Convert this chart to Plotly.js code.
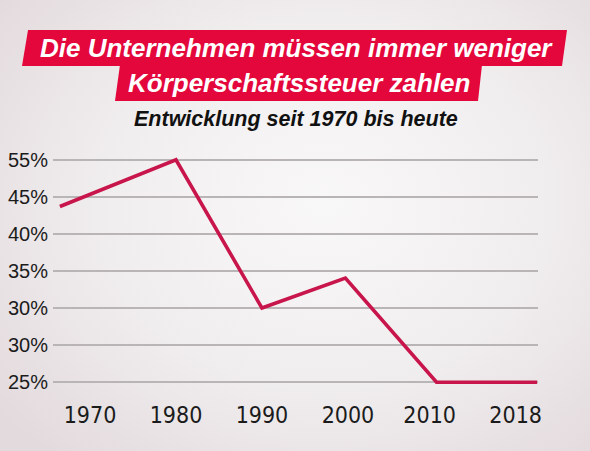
<!DOCTYPE html>
<html>
<head>
<meta charset="utf-8">
<script src="https://cdn.plot.ly/plotly-3.0.1.min.js"></script>
<style>
  html, body { margin: 0; padding: 0; }
  body {
    width: 590px; height: 451px; overflow: hidden;
    background: radial-gradient(ellipse 70% 75% at 55% 45%, #f9f8f8 0%, #f0edee 55%, #e3dadd 100%);
  }
  #chart { width: 590px; height: 451px; }
</style>
</head>
<body>
<div id="chart"></div>
<script>
// data
const years = [1966.5, 1980, 1990, 1999.7, 2010.3, 2022];
// position on the grid (0 = bottom line, 6 = top line); labels are uneven
const rateLevel = [4.74, 6, 2, 2.81, 0, 0];
const yTickPos = [0, 1, 2, 3, 4, 5, 6];
const yTickText = ['25%', '30%', '30%', '35%', '40%', '45%', '55%'];
const xTickPos = [1970, 1980, 1990, 2000, 2009.5, 2019.5];
const xTickText = ['1970', '1980', '1990', '2000', '2010', '2018'];

const titleLine1 = 'Die Unternehmen müssen immer weniger';
const titleLine2 = 'Körperschaftssteuer zahlen';
const subTitle = 'Entwicklung seit 1970 bis heute';

// layout geometry
const W = 590, H = 451;
const margin = { l: 53, r: 52, t: 145, b: 54 };
const plotW = W - margin.l - margin.r;
const plotH = H - margin.t - margin.b;

// page pixels -> paper fraction (for decoration only)
function px(x) { return (x - margin.l) / plotW; }
function py(y) { return (H - margin.b - y) / plotH; }

function boxPath(pts) {
  return 'M ' + pts.map(p => px(p[0]).toFixed(4) + ',' + py(p[1]).toFixed(4)).join(' L ') + ' Z';
}

const red = '#e3073c';
const lineRed = '#c8154b';

let trace = {
  x: years,
  y: rateLevel,
  mode: 'lines',
  line: { color: lineRed, width: 3.6 },
  hoverinfo: 'skip'
};

let layout = {
  width: W,
  height: H,
  margin: margin,
  showlegend: false,
  paper_bgcolor: 'rgba(0,0,0,0)',
  plot_bgcolor: 'rgba(0,0,0,0)',
  xaxis: {
    range: [1965.7, 2022.1],
    showgrid: false,
    zeroline: false,
    showline: false,
    ticks: '',
    tickmode: 'array',
    tickvals: xTickPos,
    ticktext: xTickText,
    ticklabelstandoff: 2,
    tickfont: { family: '"DejaVu Sans Condensed", "Liberation Sans", sans-serif', size: 23, color: '#1b1b1b' },
    automargin: false
  },
  yaxis: {
    range: [-0.4, 6.4],
    showgrid: true,
    gridcolor: '#b9b5b7',
    gridwidth: 1.4,
    zeroline: false,
    showline: false,
    ticks: '',
    tickmode: 'array',
    tickvals: yTickPos,
    ticktext: yTickText,
    ticklabelstandoff: 4,
    tickfont: { family: 'Liberation Sans', size: 20, color: '#1b1b1b' },
    automargin: false
  },
  shapes: [
    {
      type: 'path', xref: 'paper', yref: 'paper', layer: 'below',
      path: boxPath([[28, 30], [567, 30], [562, 66], [22, 66]]),
      fillcolor: red, line: { width: 0 }
    },
    {
      type: 'path', xref: 'paper', yref: 'paper', layer: 'below',
      path: boxPath([[120, 65], [482, 65], [478, 101], [115, 101]]),
      fillcolor: red, line: { width: 0 }
    }
  ],
  annotations: [
    {
      xref: 'paper', yref: 'paper', x: px(296), y: py(48),
      xanchor: 'center', yanchor: 'middle', showarrow: false,
      text: '<b><i>' + titleLine1 + '</i></b>',
      font: { family: 'Liberation Sans', size: 26, color: '#ffffff' }
    },
    {
      xref: 'paper', yref: 'paper', x: px(299), y: py(83),
      xanchor: 'center', yanchor: 'middle', showarrow: false,
      text: '<b><i>' + titleLine2 + '</i></b>',
      font: { family: 'Liberation Sans', size: 26, color: '#ffffff' }
    },
    {
      xref: 'paper', yref: 'paper', x: px(296), y: py(119),
      xanchor: 'center', yanchor: 'middle', showarrow: false,
      text: '<b><i>' + subTitle + '</i></b>',
      font: { family: 'Liberation Sans', size: 21.5, color: '#111111' }
    }
  ]
};

Plotly.newPlot('chart', [trace], layout, { displayModeBar: false, staticPlot: true });
</script>
</body>
</html>
